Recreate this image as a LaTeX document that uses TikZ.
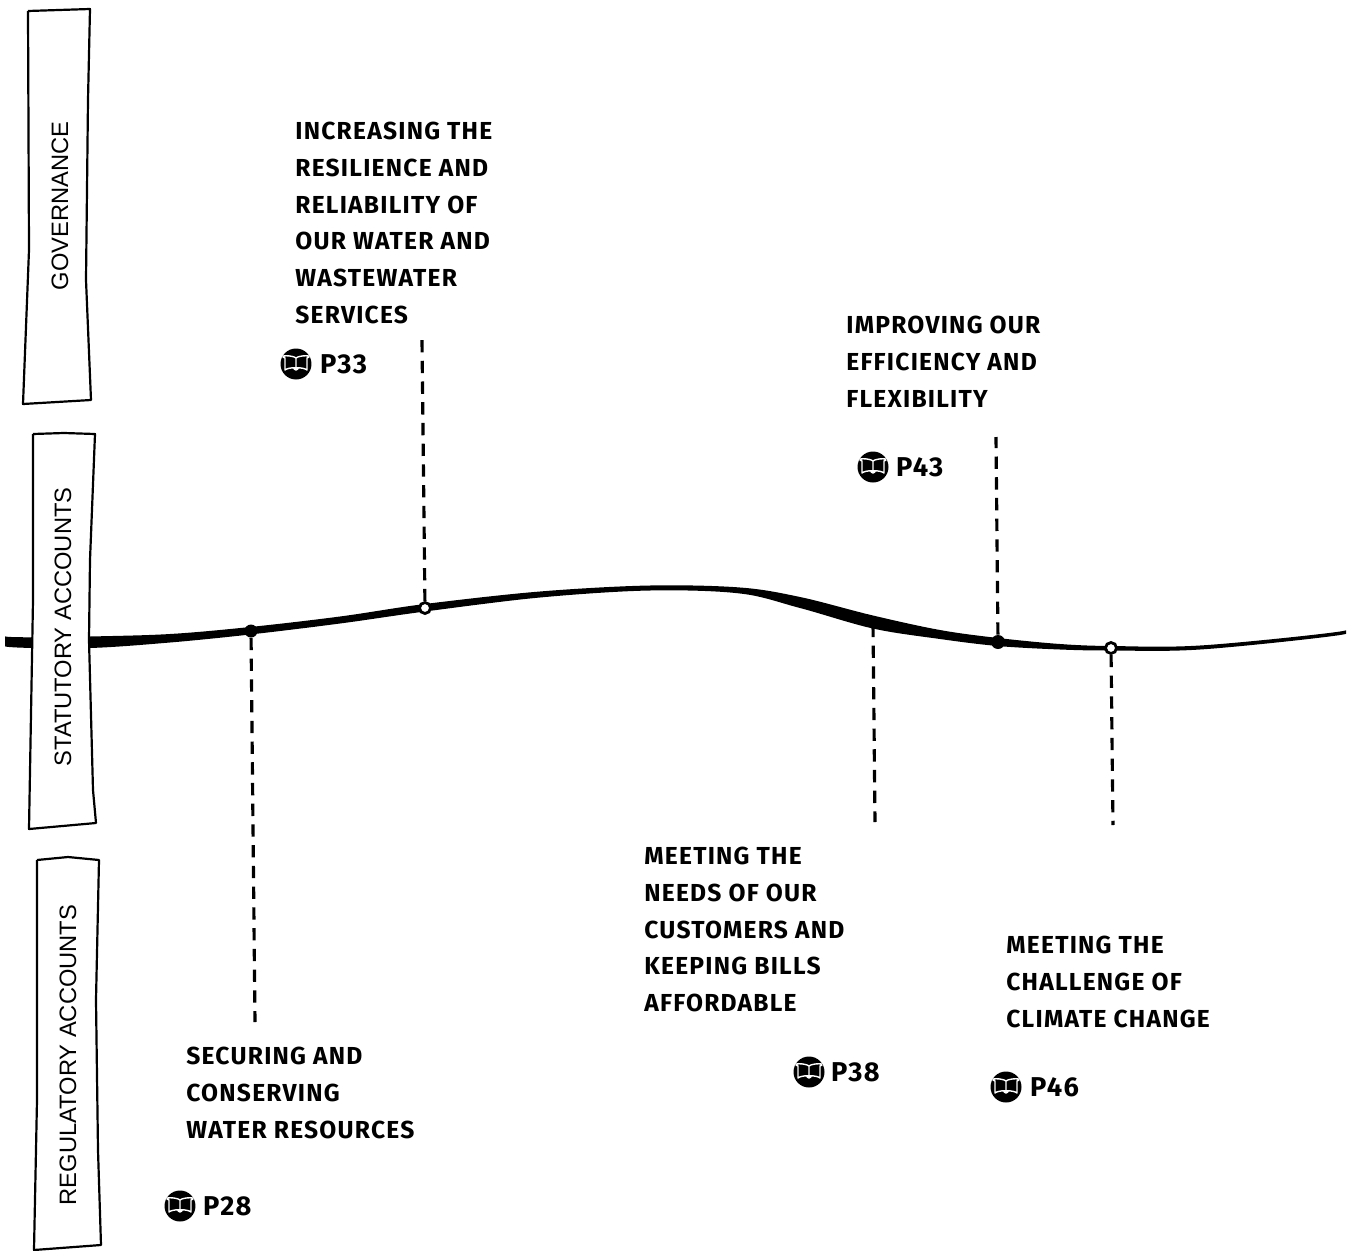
\documentclass[tikz,border=0pt]{standalone}
\usepackage{fontspec}
\setmainfont{Fira Sans}[LetterSpace=5]
\setsansfont{Liberation Sans}
\usepackage{xcolor}
\usetikzlibrary{positioning}
\tikzset{
  topic/.style={anchor=north west,align=left,inner sep=0pt,font=\fontsize{14}{20.9}\selectfont\bfseries},
  pageref/.style={anchor=west,inner sep=0pt,font=\fontsize{15.5}{18}\selectfont\bfseries},
  report/.style={rotate=90,inner sep=0pt,font=\fontsize{13.5}{18}\sffamily},
  reportbox/.style={draw=black,fill=white,line width=1.25pt,line join=round},
  leader/.style={line width=1.8pt,dash pattern=on 7pt off 4.8pt},
  solidpt/.style={circle,fill=black,inner sep=0pt,minimum size=.28cm},
  openpt/.style={circle,draw=black,fill=white,line width=1.6pt,inner sep=0pt,minimum size=.22cm},
  bookmark/.style={circle,fill=black,inner sep=0pt,minimum size=.62cm,path picture={
    \draw[white,line width=.8pt,line join=round]
      (path picture bounding box.center)++(0cm,.12cm)
      .. controls +(-.07cm,.06cm) and +(-.16cm,.06cm) .. ++(-.22cm,0cm) -- ++(0cm,-.24cm)
      .. controls +(.06cm,.06cm) and +(.15cm,.06cm) .. ++(.22cm,0cm) -- ++(0cm,.24cm)
      .. controls +(.07cm,.06cm) and +(.16cm,.06cm) .. ++(.22cm,0cm) -- ++(0cm,-.24cm)
      .. controls +(-.06cm,.06cm) and +(-.15cm,.06cm) .. ++(-.22cm,0cm);
  }},
}
\begin{document}
\begin{tikzpicture}[x=0.02cm,y=-0.02cm]
  \useasboundingbox (0,0) rectangle (1353,1251);
  % the line, wider where the curve bends
  \fill[black,rounded corners=1pt] plot[smooth,tension=0.55] coordinates{
      (5,638)(90,636.5)(170,634)(250,627)(340,616.5)(425,604)(540,591.5)(650,585.5)(740,587.5)(800,597)(873,615.5)(940,630)(998,638)(1060,644)(1111,646)(1200,645.5)(1346,632)}
    -- plot[smooth,tension=0.55] coordinates{
      (1346,635.5)(1200,649.5)(1111,650.5)(1060,649.5)(998,646)(940,639)(873,628.5)(800,608)(740,593.5)(650,590.5)(540,597.5)(425,611.5)(340,623.5)(250,634.5)(170,642.5)(90,648)(5,648)}
    -- cycle;
  % report boxes
  \draw[reportbox] (28,11)--(90,9)--(88,100)--(86,280)--(91,400)--(23,404)--(29,250)--(28,11);
  \draw[reportbox] (33,434)--(64,433)--(95,434)--(90,560)--(89,640)--(93,790)--(96,823)--(29,829)--(33,600)--(33,434);
  \draw[reportbox] (37,860)--(68,857)--(99,860)--(96,1000)--(98,1150)--(101,1245)--(34,1250)--(37,1100)--(37,860);
  \node[report] (governance) at (60,206) {GOVERNANCE};
  \node[report] (statutory) at (63,627) {STATUTORY ACCOUNTS};
  \node[report] (regulatory) at (68,1055) {REGULATORY ACCOUNTS};
  % points on the line
  \node[solidpt,minimum size=.26cm] (resources) at (251,631) {};
  \node[openpt] (resilience) at (425,608) {};
  \node[inner sep=0pt,minimum size=.1cm] (customers) at (873,622) {};
  \node[solidpt] (efficiency) at (998,642) {};
  \node[openpt] (climate) at (1111,648) {};
  % free ends
  \coordinate (resourcesend) at (255,1022);
  \coordinate (resilienceend) at (422,340);
  \coordinate (customersend) at (875,822);
  \coordinate (efficiencyend) at (996,437);
  \coordinate (climateend) at (1113,825);
  \draw[leader] (resources) -- (resourcesend);
  \draw[leader] (resilience) -- (resilienceend);
  \draw[leader] (customers) -- (customersend);
  \draw[leader] (efficiency) -- (efficiencyend);
  \draw[leader] (climate) -- (climateend);
  % topics
  \node[topic] (topicb) at (295,122) {INCREASING THE\\RESILIENCE AND\\RELIABILITY OF\\OUR WATER AND\\WASTEWATER\\SERVICES};
  \node[topic] (topicd) at (846,316) {IMPROVING OUR\\EFFICIENCY AND\\FLEXIBILITY};
  \node[topic] (topicc) at (644,847) {MEETING THE\\NEEDS OF OUR\\CUSTOMERS AND\\KEEPING BILLS\\AFFORDABLE};
  \node[topic] (topice) at (1006,936) {MEETING THE\\CHALLENGE OF\\CLIMATE CHANGE};
  \node[topic] (topica) at (186,1047) {SECURING AND\\CONSERVING\\WATER RESOURCES};
  % page references
  \node[bookmark] (bookb) at (296,364) {};
  \node[pageref,right=.16cm of bookb] {P33};
  \node[bookmark] (bookd) at (873,467) {};
  \node[pageref,right=.14cm of bookd] {P43};
  \node[bookmark] (bookc) at (809,1072) {};
  \node[pageref,right=.12cm of bookc] {P38};
  \node[bookmark] (booke) at (1006,1087) {};
  \node[pageref,right=.16cm of booke] {P46};
  \node[bookmark] (booka) at (180,1206) {};
  \node[pageref,right=.14cm of booka] {P28};
\end{tikzpicture}
\end{document}
